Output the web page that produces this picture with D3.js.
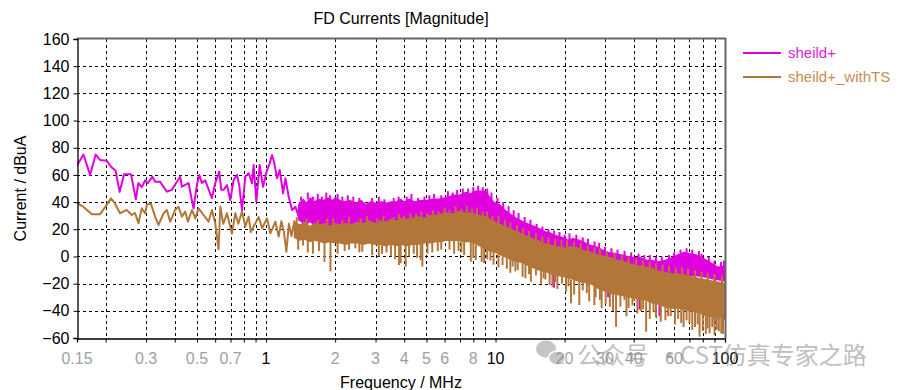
<!DOCTYPE html>
<html>
<head>
<meta charset="utf-8">
<script src="https://cdn.jsdelivr.net/npm/d3@7/dist/d3.min.js"></script>
<style>
  html, body { margin: 0; padding: 0; background: #fff; }
  svg { display: block; font-family: "Liberation Sans", Arial, sans-serif; }
</style>
</head>
<body>
<svg id="chart" width="900" height="390"></svg>
<script>
// ---------------- DATA ----------------
const title = "FD Currents [Magnitude]";
const xLabel = "Frequency / MHz";
const yLabel = "Current / dBuA";
const seriesNames = ["sheild+", "sheild+_withTS"];

const yTicks = [-60, -40, -20, 0, 20, 40, 60, 80, 100, 120, 140, 160];
const xTickLabels = [0.15, 0.3, 0.5, 0.7, 1, 2, 3, 4, 5, 6, 8, 10, 20, 30, 40, 60, 100];
const xMajorLabels = [1, 10, 100];

// sheild+ : low-frequency trace
const pinkLineF = [0.150,0.160,0.171,0.181,0.189,0.202,0.211,0.221,0.230,0.2405,0.258,0.2706,0.2778,0.2874,0.297,0.3052,0.3197,0.3286,0.3454,0.3695,0.3886,0.4087,0.4224,0.4297,0.4592,0.483,0.4996,0.5113,0.5254,0.5431,0.5598,0.5809,0.6005,0.6253,0.6379,0.6527,0.6756,0.6983,0.7222,0.7469,0.7645,0.7855,0.8121,0.8396,0.8689,0.8828,0.9071,0.9377,0.9703,1.010,1.037,1.062,1.087,1.117,1.147,1.186,1.214,1.255,1.299,1.343,1.388];
const pinkLineV = [67,75,60,75,71,70.5,66,63,47.5,60.5,60.5,42,54,51,56,54,58.7,55,55,47.7,49,55,58.7,51.3,54,35.4,52.6,60,54,56,50,43,54,62.4,49,49,52.6,41.5,56.3,60,52,34,58.7,61.2,53.8,67.3,40.3,67.3,51.3,63.6,68.5,74.7,68.5,57.5,63.6,46.5,57.5,44,34.2,36.6,29.3];

// sheild+ : dense region envelope
const pinkBandF  = [1.39,1.45,1.5,1.56,1.62,1.7,1.78,1.86,1.95,2.0,2.1,2.2,2.33,2.45,2.6,2.71,2.85,3.0,3.2,3.35,3.5,3.7,3.85,4.0,4.2,4.45,4.7,5.0,5.3,5.6,6.0,6.3,6.6,7.0,7.4,7.8,8.2,8.6,9.0,9.4,9.8,10.4,11.0,11.6,12.3,13.0,13.8,14.7,15.6,16.5,17.4,18.5,19.5,20.6,21.8,23.0,24.5,26.0,27.5,29.0,30.8,33.0,35.3,37.5,40.2,43.0,45.4,48.0,51.2,55.0,58.5,62.0,66.4,70.0,75.0,81.3,87.0,93.0,100];
const pinkBandHi = [38,42,39,43,40,42,41,43,41,43,41,40,41,39,41,38,40,39,40,39,40,40,42,40,42,40,41,41,42,42,43,44,45,45,47,46,48,48,48,44,40,38,34,31,28,26,24,22,20,18,17,15,14,12,13,12,10,8,7,5,3,2,1,0,-1,-1,-3,-3,-4,-3,-1,1,3,2,1,-2,-5,-8,-7];
const pinkBandLo = [27,25,24,26,23,22,24,21,23,22,21,20,19,21,20,21,19,19,18,20,17,19,20,19,21,22,22,23,24,24,25,26,25,26,27,27,27,26,25,24,22,20,18,17,15,14,12,10,8,7,6,5,4,3,2,1,0,-1,-2,-3,-5,-6,-7,-8,-9,-10,-11,-12,-12,-13,-13,-13,-13,-14,-14,-15,-16,-17,-18];
// sheild+ : upward spikes on the envelope top
const pinkUpF = [1.42,1.52,1.6,1.68,1.75,1.83,1.9,2.05,2.15,2.27,2.4,2.55,2.9,3.1,3.28,3.6,3.78,4.1,4.3,4.6,4.9,5.15,5.4,5.8,6.2,6.5,6.8,7.2,7.6,8.0,8.4,8.8,9.2,9.6,10.2,10.8,11.4,12.0,12.6,13.4,14.2,15.1,16.0,17.0,18.0,19.0,20.0,21.0,22.5,24.0,25.3,27.0,28.3,30.0,32.0,34.0,36.5,39.0,42.0,44.5,47.0,50.0,53.0,57.0,60.0,64.0,68.0,72.0,77.0,79.0,85.0,90.0,96.0,99.0];
const pinkUpV = [44,47,44,46,44,47,45,46,44,45,44,43,43,44,42,43,44,44,46,43,44,45,46,45,48,47,49,50,50,51,52,51,50,47,43,40,37,34,32,29,27,24,22,20,19,18,16,17,16,14,13,11,10,7,6,5,4,3,2,1,1,0,0,1,3,5,6,5,4,2,0,-3,-4,-3];
// sheild+ : downward spikes
const pinkSpikeF = [1.62,2.33,3.5,17.74,17.97,30.94,42.4,51.8,90.1];
const pinkSpikeV = [16,15,13,-22,-23,-30,-39,-44,-49];

// sheild+_withTS : low-frequency trace
const brownLineF = [0.1504,0.1597,0.1741,0.189,0.202,0.211,0.2196,0.2308,0.247,0.2598,0.2686,0.2778,0.2874,0.297,0.3021,0.3144,0.3286,0.3399,0.3577,0.3695,0.3822,0.4016,0.4153,0.4297,0.4442,0.4565,0.4755,0.4916,0.5083,0.5343,0.5616,0.5809,0.6005,0.6209,0.6318,0.6509,0.6756,0.71,0.7344,0.757,0.7855,0.8121,0.8396,0.8581,0.8828,0.9283,0.9606,1.010,1.044,1.098,1.135,1.166,1.196,1.226,1.258,1.290,1.329];
const brownLineV = [39,36.6,31,31,38,42.8,39,31.8,34.2,30.5,32,24.4,35.4,31.8,37.9,39.1,29.3,23.2,31.8,34.2,25.6,34.2,36.6,29.3,33,25.6,34.2,28,35.4,30.5,25.6,34.2,24.4,5.3,36.6,24,31.8,16.8,31.8,24,33,22,29.3,18,22,29,20.7,28,17,25.6,14.6,26,18,3.5,24,15,26];

// sheild+_withTS : dense region envelope
const brownBandF  = [1.33,1.4,1.47,1.55,1.63,1.72,1.8,1.9,2.0,2.1,2.22,2.35,2.5,2.65,2.8,3.0,3.15,3.3,3.5,3.7,3.9,4.1,4.35,4.6,4.9,5.2,5.5,5.8,6.1,6.5,6.9,7.3,7.7,8.1,8.5,9.0,9.5,10.0,10.6,11.3,12.0,12.8,13.6,14.5,15.5,16.5,17.6,18.8,20.0,21.3,22.8,24.3,26.0,27.8,29.5,31.5,34.0,36.5,39.0,42.0,45.0,48.0,51.5,55.0,59.0,63.0,67.0,71.0,76.0,81.0,87.0,93.0,100];
const brownBandHi = [25,23,25,22,24,23,24,22,24,23,24,23,25,24,26,24,26,25,27,26,28,27,28,29,28,30,30,31,32,31,33,32,32,31,30,29,27,25,23,21,19,17,15,13,11,9,8,7,6,7,6,4,3,1,0,-1,-3,-4,-6,-7,-8,-9,-11,-12,-13,-13,-14,-15,-16,-17,-18,-19,-20];
const brownBandLo = [14,12,13,11,12,11,10,11,10,10,9,10,10,9,10,9,9,8,9,8,9,8,9,9,10,10,11,11,12,12,12,11,11,10,8,6,4,3,1,-1,-3,-4,-6,-8,-10,-11,-13,-14,-15,-16,-18,-19,-20,-23,-25,-27,-28,-29,-30,-31,-32,-34,-35,-37,-38,-38,-39,-40,-41,-43,-44,-45,-44];
// sheild+_withTS : upward spikes on the envelope top
const brownUpF = [1.36,1.5,1.68,1.85,1.96,2.15,2.3,2.58,2.75,3.05,3.25,3.6,3.8,4.0,4.25,4.5,4.75,5.05,5.35,5.65,6.0,6.3,6.7,7.1,7.5,7.9,8.3,8.8,9.2,9.7,10.3,11.0,11.6,12.4,13.2,14.0,15.0,16.0,17.0,18.2,19.4,20.5,22.0,23.5,25.2,27.0,28.5,30.5,33.0,35.5,38.0,41.0,44.0,47.0,50.0,53.5,57.0,61.0,65.0,69.0,74.0,79.0,84.0,90.0,97.0];
const brownUpV = [29,28,27,28,28,27,29,28,30,28,30,29,31,30,32,31,33,32,34,33,36,34,37,35,37,35,36,33,33,30,30,27,25,23,21,19,17,15,14,13,12,12,11,10,8,7,6,4,3,1,0,-2,-3,-4,-5,-6,-7,-8,-8,-9,-10,-11,-12,-13,-14];
// sheild+_withTS : downward spikes
const brownSpikeF = [1.38,1.45,1.52,1.6,1.7,1.797,1.909,2.05,2.2,2.3,2.45,2.55,2.626,2.9,3.1,3.2,3.35,3.5,3.65,3.793,3.859,4.058,4.2,4.4,4.55,4.72,4.8,5.05,5.3,5.6,5.8,6.3,6.6,6.9,7.1,7.3,7.8,8.0,8.2,8.7,8.92,9.2,9.5,9.8,10.3,10.73,11.2,11.6,11.87,12.2,12.5,13.12,13.5,14,14.26,15,15.8,16.2,16.5,17.2,17.74,18.2,18.6,19.5,20.3,20.8,21.33,22,23.18,24,25,25.6,26.96,27.3,28.5,29,30.2,31.5,32.5,33.51,35,36.44,37.2,38,39.5,40.29,41.5,43,44,45.33,47,48.8,50,52.5,55,56.5,58,60.5,62.5,64.46,66,68,70,72,74,76,77.47,80,82.5,84,85.66,88,90,92,94,96.3,98,100];
const brownSpikeV = [5,8,3,2,4,-4,-11,2,4,5,6,3,3.5,1,0,2,3,0,-2,-6.3,-5,-7.5,0,2,-1,-2.6,-7.5,2,3,4,5,5,2,4,3,1,-3.9,-1,-2.6,-4,-5,-2,-3,-6,-8,-6.3,-9,-12,-7.5,-11,-10,-15,-16,-13,-18.6,-14,-20,-16,-17,-21,-22,-19,-24,-20,-26,-22,-34.5,-28,-35.7,-25,-27,-33,-35.7,-30,-32,-38,-35,-37,-40,-51.8,-37,-32,-44,-38,-36,-33,-42,-40,-39,-55.4,-46,-41,-45,-48,-47,-44,-44,-50,-46,-49,-52,-47,-49,-54,-52,-50,-59,-55,-57,-53,-56.6,-52,-58,-54,-55,-56.6,-57,-46.8];

// watermark text
const watermark = ["公众号", "·", "CST仿真专家之路"];

// ---------------- CHART ----------------
const colors = ["#e000e0", "#b37639"];
const legendTextColors = ["#e020e0", "#c48d52"];

const svg = d3.select("#chart");
const plot = { left: 77, right: 725, top: 39, bottom: 338 };

const x = d3.scaleLog().domain([0.15, 100]).range([plot.left, plot.right]);
const y = d3.scaleLinear().domain([-60, 160]).range([plot.bottom, plot.top]);

// grid
const gridX = x.ticks().filter(v => v > 0.15 + 1e-9 && v < 100 - 1e-9);
const gridY = yTicks.filter(v => v > -60 && v < 160);

const grid = svg.append("g").attr("stroke", "#000").attr("stroke-width", 1).attr("stroke-dasharray", "3,3").attr("shape-rendering", "crispEdges");
grid.selectAll("line.gx").data(gridX).enter().append("line")
  .attr("x1", d => Math.round(x(d)) + 0.5).attr("x2", d => Math.round(x(d)) + 0.5)
  .attr("y1", plot.top).attr("y2", plot.bottom);
grid.selectAll("line.gy").data(gridY).enter().append("line")
  .attr("x1", plot.left).attr("x2", plot.right)
  .attr("y1", d => Math.round(y(d)) + 0.5).attr("y2", d => Math.round(y(d)) + 0.5);

// clip
svg.append("defs").append("clipPath").attr("id", "clip")
  .append("rect").attr("x", plot.left).attr("y", plot.top)
  .attr("width", plot.right - plot.left).attr("height", plot.bottom - plot.top);

const data = svg.append("g").attr("clip-path", "url(#clip)");

const line = d3.line().x(d => x(d[0])).y(d => y(d[1]));
const area = d3.area().x(d => x(d[0])).y0(d => y(d[2])).y1(d => y(d[1]));

function drawSeries(s, color) {
  const g = data.append("g");
  const pts = s.lineF.map((f, i) => [f, s.lineV[i]]);
  const band = s.bandF.map((f, i) => [f, s.bandHi[i], s.bandLo[i]]);
  pts.push([band[0][0], band[0][1]]);
  g.append("path").attr("d", line(pts)).attr("fill", "none")
    .attr("stroke", color).attr("stroke-width", 2).attr("stroke-linejoin", "round");
  g.append("path").attr("d", area(band)).attr("fill", color)
    .attr("stroke", color).attr("stroke-width", 1.5).attr("stroke-linejoin", "round");
  const bis = d3.bisector(d => d[0]).left;
  const nearest = f => band[Math.min(band.length - 1, bis(band, f))];
  const down = s.downF.map((f, i) => [f, s.downV[i], nearest(f)[2] + 1]);
  const up = s.upF.map((f, i) => [f, s.upV[i], nearest(f)[1] - 1]);
  g.selectAll("line.sp").data(down.concat(up)).enter().append("line")
    .attr("x1", d => x(d[0])).attr("x2", d => x(d[0]))
    .attr("y1", d => y(d[2])).attr("y2", d => y(d[1]))
    .attr("stroke", color).attr("stroke-width", 2);
}

drawSeries({ lineF: pinkLineF, lineV: pinkLineV, bandF: pinkBandF, bandHi: pinkBandHi, bandLo: pinkBandLo,
  downF: pinkSpikeF, downV: pinkSpikeV, upF: pinkUpF, upV: pinkUpV }, colors[0]);
drawSeries({ lineF: brownLineF, lineV: brownLineV, bandF: brownBandF, bandHi: brownBandHi, bandLo: brownBandLo,
  downF: brownSpikeF, downV: brownSpikeV, upF: brownUpF, upV: brownUpV }, colors[1]);

// frame: top & right gray
svg.append("line").attr("x1", plot.left).attr("x2", plot.right + 1).attr("y1", plot.top - 0.5).attr("y2", plot.top - 0.5)
  .attr("stroke", "#666").attr("stroke-width", 2);
svg.append("line").attr("x1", plot.right + 0.5).attr("x2", plot.right + 0.5).attr("y1", plot.top - 1).attr("y2", plot.bottom)
  .attr("stroke", "#666").attr("stroke-width", 2);

// axes
const yAxis = d3.axisLeft(y).tickValues(yTicks).tickSize(4).tickPadding(4).tickFormat(d3.format("d"));
const gy = svg.append("g").attr("transform", `translate(${plot.left + 0.5},0)`).call(yAxis);
gy.select(".domain").attr("stroke", "#000").attr("stroke-width", 1.3);
gy.selectAll(".tick line").attr("stroke", "#000");
gy.selectAll("text").attr("font-size", 16).attr("fill", "#000")
  .attr("font-family", "Liberation Sans, Arial, sans-serif");

const xAxisTicks = d3.axisBottom(x).tickValues(x.ticks()).tickSize(4).tickFormat("");
const gx = svg.append("g").attr("transform", `translate(0,${plot.bottom + 0.5})`).call(xAxisTicks);
gx.select(".domain").attr("stroke", "#000").attr("stroke-width", 1.3);
gx.selectAll(".tick line").attr("stroke", "#000");

svg.append("g").selectAll("text").data(xTickLabels).enter().append("text")
  .attr("x", d => x(d)).attr("y", 364)
  .attr("text-anchor", "middle")
  .attr("font-size", 16)
  .attr("fill", d => xMajorLabels.includes(d) ? "#000" : "#a0a0a0")
  .text(d => String(d));

// title & labels
svg.append("text").attr("x", (plot.left + plot.right) / 2).attr("y", 24)
  .attr("text-anchor", "middle").attr("font-size", 16).attr("fill", "#000").text(title);
svg.append("text").attr("x", (plot.left + plot.right) / 2).attr("y", 388)
  .attr("text-anchor", "middle").attr("font-size", 16).attr("fill", "#000").text(xLabel);
svg.append("text").attr("transform", `translate(26,${(plot.top + plot.bottom) / 2}) rotate(-90)`)
  .attr("text-anchor", "middle").attr("font-size", 16).attr("fill", "#000").text(yLabel);

// legend
const legend = svg.append("g");
seriesNames.forEach((name, i) => {
  const ly = 53 + i * 24;
  legend.append("line").attr("x1", 743).attr("x2", 781).attr("y1", ly).attr("y2", ly)
    .attr("stroke", colors[i]).attr("stroke-width", 2);
  legend.append("text").attr("x", 788).attr("y", ly + 5).attr("font-size", 15)
    .attr("fill", legendTextColors[i]).text(name);
});

// watermark (overlays the axis labels, as in the reference)
const wm = svg.append("g").attr("opacity", 0.5);
wm.append("ellipse").attr("cx", 546).attr("cy", 349).attr("rx", 10).attr("ry", 8.5).attr("fill", "#8c8c8c");
wm.append("ellipse").attr("cx", 557).attr("cy", 358).attr("rx", 8.5).attr("ry", 7).attr("fill", "#8c8c8c").attr("stroke", "#fff").attr("stroke-width", 1.5);
const wmFont = "'Noto Sans CJK SC', sans-serif";
wm.append("text").attr("x", 577).attr("y", 364).attr("font-size", 24).attr("font-family", wmFont).attr("fill", "#808080").text(watermark[0]);
wm.append("text").attr("x", 657).attr("y", 364).attr("font-size", 24).attr("font-family", wmFont).attr("fill", "#808080").text(watermark[1]);
wm.append("text").attr("x", 680).attr("y", 364).attr("font-size", 24).attr("font-family", wmFont).attr("fill", "#808080").text(watermark[2]);
</script>
</body>
</html>
